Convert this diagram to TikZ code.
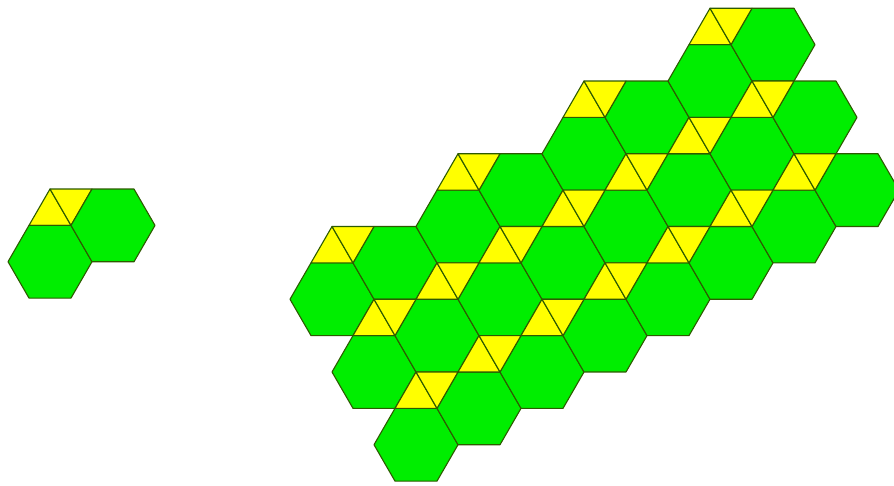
\documentclass[tikz,border=0pt]{standalone}
\definecolor{hexgreen}{RGB}{0,238,0}
\definecolor{rhyellow}{RGB}{255,255,0}
\definecolor{edgecol}{RGB}{45,90,0}
\tikzset{
  hexa/.style={fill=hexgreen,draw=edgecol,line width=1.1pt,line join=round},
  trifill/.style={fill=rhyellow,draw=edgecol,line width=1.1pt,line join=round}
}
% hexagon with centre at pixel (#1,#2)
\newcommand\hexpx[2]{%
  \draw[hexa] (#1-42,#2) -- (#1-21,#2-36.37) -- (#1+21,#2-36.37) -- (#1+42,#2)
     -- (#1+21,#2+36.37) -- (#1-21,#2+36.37) -- cycle;}
% rhombus (two triangles) with top-left corner at pixel (#1,#2)
\newcommand\rhombpx[2]{%
  \draw[trifill] (#1,#2) -- (#1-21,#2+36.37) -- (#1+21,#2+36.37) -- cycle;
  \draw[trifill] (#1,#2) -- (#1+42,#2) -- (#1+21,#2+36.37) -- cycle;}
% lattice versions for the large patch
\newcommand\hexlat[2]{%
  \pgfmathsetmacro\cxx{332+42*(#1)+21*(#2)}%
  \pgfmathsetmacro\cyy{226.5-36.37*(#2)}%
  \hexpx{\cxx}{\cyy}}
\newcommand\rhomblat[2]{%
  \pgfmathsetmacro\rxx{332+42*(#1)+21*(#2)}%
  \pgfmathsetmacro\ryy{226.5-36.37*(#2)}%
  \rhombpx{\rxx}{\ryy}}
\begin{document}
\begin{tikzpicture}[x=1pt,y=-1pt]
\useasboundingbox (0,0) rectangle (894,485);
\clip (0,0) rectangle (894,485);
\fill[white] (0,0) rectangle (894,485);
% small piece on the left
\rhombpx{50}{189}
\hexpx{50}{261.7}
\hexpx{113}{225.4}
% large patch: three chains of hexagons
\foreach \k in {0,1,2}{
  \foreach \t in {0,...,7}{
    \pgfmathtruncatemacro\ii{1+2*\k+\t}
    \pgfmathtruncatemacro\jj{-2-2*\k+\t}
    \hexlat{\ii}{\jj}
  }
}
% rhombi of the top chain
\foreach \t in {0,2,4,6}{ \rhomblat{\t}{\t} }
% rhombi of the second and third chains
\foreach \t in {0,...,6}{
  \pgfmathtruncatemacro\ia{2+\t}\pgfmathtruncatemacro\ja{-2+\t}
  \rhomblat{\ia}{\ja}
  \pgfmathtruncatemacro\ib{4+\t}\pgfmathtruncatemacro\jb{-4+\t}
  \rhomblat{\ib}{\jb}
}
\end{tikzpicture}
\end{document}
